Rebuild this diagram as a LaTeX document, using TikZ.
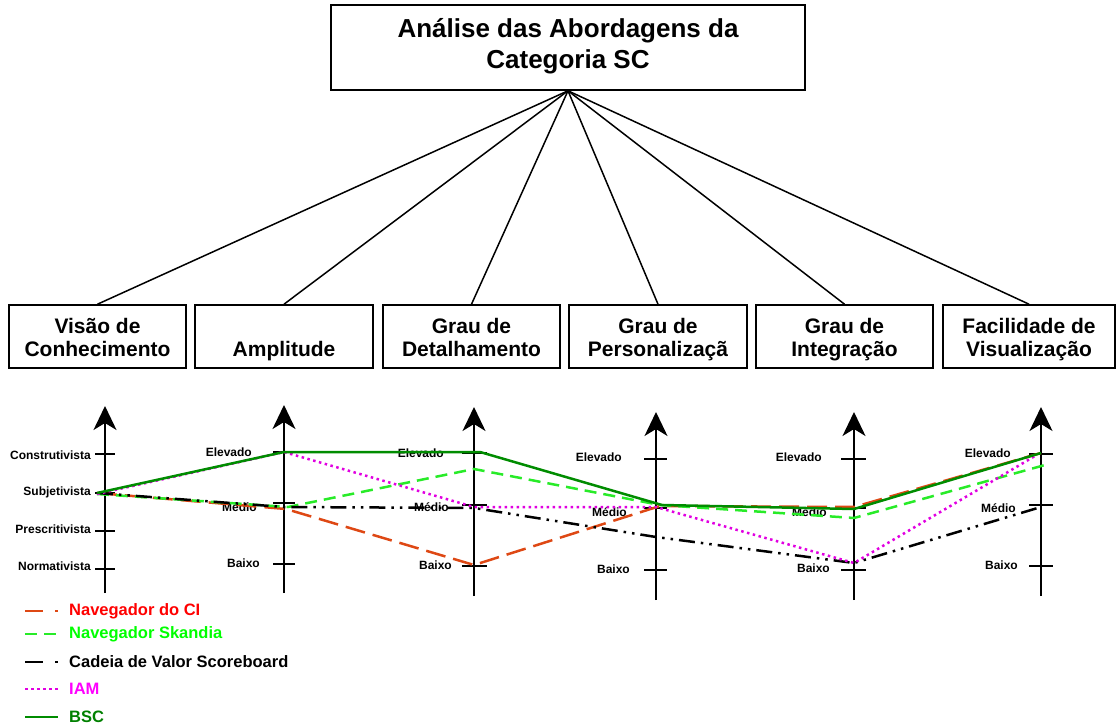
\documentclass[tikz,border=0pt]{standalone}
\usepackage{fontspec}
\setmainfont{Liberation Sans}
\usetikzlibrary{arrows.meta}
\definecolor{ciorange}{RGB}{222,72,20}
\definecolor{skgreen}{RGB}{40,235,40}
\definecolor{iammag}{RGB}{225,0,225}
\definecolor{bscgreen}{RGB}{0,140,0}
\definecolor{cired}{RGB}{255,0,0}
\definecolor{sktext}{RGB}{0,255,0}
\definecolor{iamtext}{RGB}{255,0,255}
\definecolor{bsctext}{RGB}{0,128,0}
\begin{document}
\begin{tikzpicture}[x=1pt,y=-1pt,
  titlebox/.style={draw, line width=1.6pt, minimum width=474pt, minimum height=85pt, inner sep=0pt},
  critbox/.style={draw, line width=1.6pt, minimum height=63pt, inner sep=0pt},
  titletext/.style={align=center, inner sep=0pt, font=\bfseries\fontsize{26}{31}\selectfont},
  crittext/.style={align=center, inner sep=0pt, font=\bfseries\fontsize{21}{24}\selectfont},
  conn/.style={line width=1.5pt},
  axisline/.style={line width=2pt, -{Stealth[length=24pt, width=23pt, inset=7pt]}},
  tickline/.style={line width=2pt},
  lvl/.style={anchor=east, inner sep=0pt, font=\bfseries\fontsize{12}{14}\selectfont},
  ciline/.style={ciorange, line width=2.5pt, dash pattern=on 20pt off 8pt},
  skline/.style={skgreen, line width=2.5pt, dash pattern=on 12pt off 7pt},
  cvline/.style={black, line width=2.5pt, dash pattern=on 16pt off 6pt on 2.5pt off 6pt on 2.5pt off 6pt},
  iamline/.style={iammag, line width=2.5pt, dash pattern=on 2.5pt off 3.5pt},
  bscline/.style={bscgreen, line width=2.5pt},
  legtext/.style={anchor=west, inner sep=0pt, font=\bfseries\fontsize{16.5}{19}\selectfont}
]
\useasboundingbox (0,0) rectangle (1117,727);

% ---- title box and criteria boxes
\node[titlebox] (top) at (568,47.5) {};
\node[titletext] (toptxt) at (568,47.3) {\strut Análise das Abordagens da\\\strut Categoria SC};

\node[critbox, minimum width=177pt] (b1) at (97.5,336.5) {};
\node[critbox, minimum width=178pt] (b2) at (284,336.5) {};
\node[critbox, minimum width=177pt] (b3) at (471.5,336.5) {};
\node[critbox, minimum width=178pt] (b4) at (658,336.5) {};
\node[critbox, minimum width=177pt] (b5) at (844.5,336.5) {};
\node[critbox, minimum width=172pt] (b6) at (1029,336.5) {};

\node[crittext] (t1) at (97.5,340.2) {\strut Visão de\\\strut Conhecimento};
\node[crittext] (t2) at (284,352.2) {\strut Amplitude};
\node[crittext] (t3) at (471.5,340.2) {\strut Grau de\\\strut Detalhamento};
\node[crittext] (t4) at (658,340.2) {\strut Grau de\\\strut Personalizaçã};
\node[crittext] (t5) at (844.5,340.2) {\strut Grau de\\\strut Integração};
\node[crittext] (t6) at (1029,340.2) {\strut Facilidade de\\\strut Visualização};

\foreach \b in {b1,b2,b3,b4,b5,b6}
  \draw[conn] (top.south) -- (\b.north);

% ---- axes
\coordinate (a1b) at (105,593);  \coordinate (a1t) at (105,406);
\coordinate (a2b) at (284,593);  \coordinate (a2t) at (284,405);
\coordinate (a3b) at (474,596);  \coordinate (a3t) at (474,407);
\coordinate (a4b) at (656,600);  \coordinate (a4t) at (656,412);
\coordinate (a5b) at (854,600);  \coordinate (a5t) at (854,412);
\coordinate (a6b) at (1041,596); \coordinate (a6t) at (1041,407);
\foreach \a in {1,...,6}
  \draw[axisline] (a\a b) -- (a\a t);

% ---- ticks
\foreach \y in {454,493,531,569} \draw[tickline] (95,\y) -- (115,\y);
\foreach \y in {452,503,564} \draw[tickline] (273,\y) -- (295,\y);
\foreach \y in {453,505,566} \draw[tickline] (462,\y) -- (487,\y);
\foreach \y in {459,508,570} \draw[tickline] (644,\y) -- (667,\y);
\foreach \y in {459,508,570} \draw[tickline] (841,\y) -- (866,\y);
\foreach \y in {454,505,566} \draw[tickline] (1029,\y) -- (1053,\y);

% ---- level labels
\node[lvl] (l11) at (91,455) {Construtivista};
\node[lvl] (l12) at (91,492) {Subjetivista};
\node[lvl] (l13) at (91,529) {Prescritivista};
\node[lvl] (l14) at (91,566) {Normativista};
\node[lvl] (l21) at (252,452) {Elevado};
\node[lvl] (l22) at (257,507) {Médio};
\node[lvl] (l23) at (260,563) {Baixo};
\node[lvl] (l31) at (444,453) {Elevado};
\node[lvl] (l32) at (449,507) {Médio};
\node[lvl] (l33) at (452,565) {Baixo};
\node[lvl] (l41) at (622,457) {Elevado};
\node[lvl] (l42) at (627,512) {Médio};
\node[lvl] (l43) at (630,569) {Baixo};
\node[lvl] (l51) at (822,457) {Elevado};
\node[lvl] (l52) at (827,512) {Médio};
\node[lvl] (l53) at (830,568) {Baixo};
\node[lvl] (l61) at (1011,453) {Elevado};
\node[lvl] (l62) at (1016,508) {Médio};
\node[lvl] (l63) at (1018,565) {Baixo};

% ---- profiles of the approaches
\coordinate (ci1) at (97,493);  \coordinate (ci2) at (286,509); \coordinate (ci3) at (474,565);
\coordinate (ci4) at (660,506); \coordinate (ci5) at (854,507); \coordinate (ci6) at (1041,453);
\coordinate (sk1) at (97,494);  \coordinate (sk2) at (288,507); \coordinate (sk3) at (474,469);
\coordinate (sk4) at (660,505); \coordinate (sk5) at (854,518); \coordinate (sk6) at (1045,465);
\coordinate (cv1) at (97,493);  \coordinate (cv2) at (284,507); \coordinate (cv3) at (474,508);
\coordinate (cv4) at (656,537); \coordinate (cv5) at (854,563); \coordinate (cv6) at (1041,507);
\coordinate (ia1) at (97,494);  \coordinate (ia2) at (284,452); \coordinate (ia3) at (474,507);
\coordinate (ia4) at (656,507); \coordinate (ia5) at (854,563); \coordinate (ia6) at (1035,456);
\coordinate (bs1) at (97,493);  \coordinate (bs2) at (284,452); \coordinate (bs3) at (480,452);
\coordinate (bs4) at (662,505); \coordinate (bs5) at (854,509); \coordinate (bs6) at (1041,453);

\draw[ciline] (ci1) -- (ci2) -- (ci3) -- (ci4) -- (ci5) -- (ci6);
\draw[skline] (sk1) -- (sk2) -- (sk3) -- (sk4) -- (sk5) -- (sk6);
\draw[cvline] (cv1) -- (cv2) -- (cv3) -- (cv4) -- (cv5) -- (cv6);
\draw[iamline] (ia1) -- (ia2) -- (ia3) -- (ia4) -- (ia5) -- (ia6);
\draw[bscline] (bs1) -- (bs2) -- (bs3) -- (bs4) -- (bs5) -- (bs6);

% ---- legend
\coordinate (k1a) at (25,611); \coordinate (k1b) at (58,611);
\coordinate (k2a) at (25,634); \coordinate (k2b) at (58,634);
\coordinate (k3a) at (25,662); \coordinate (k3b) at (58,662);
\coordinate (k4a) at (25,689); \coordinate (k4b) at (58,689);
\coordinate (k5a) at (25,717); \coordinate (k5b) at (58,717);
\draw[ciorange, line width=2.5pt, dash pattern=on 18pt off 12pt on 2.5pt off 20pt] (k1a) -- (k1b);
\draw[skline] (k2a) -- (k2b);
\draw[black, line width=2.5pt, dash pattern=on 18pt off 12pt on 2.5pt off 20pt] (k3a) -- (k3b);
\draw[iamline] (k4a) -- (k4b);
\draw[bscline] (k5a) -- (k5b);
\node[legtext, text=cired] (g1) at (69,611) {Navegador do CI};
\node[legtext, text=sktext] (g2) at (69,634) {Navegador Skandia};
\node[legtext] (g3) at (69,662) {Cadeia de Valor Scoreboard};
\node[legtext, text=iamtext] (g4) at (69,689) {IAM};
\node[legtext, text=bsctext] (g5) at (69,717) {BSC};
\end{tikzpicture}
\end{document}
